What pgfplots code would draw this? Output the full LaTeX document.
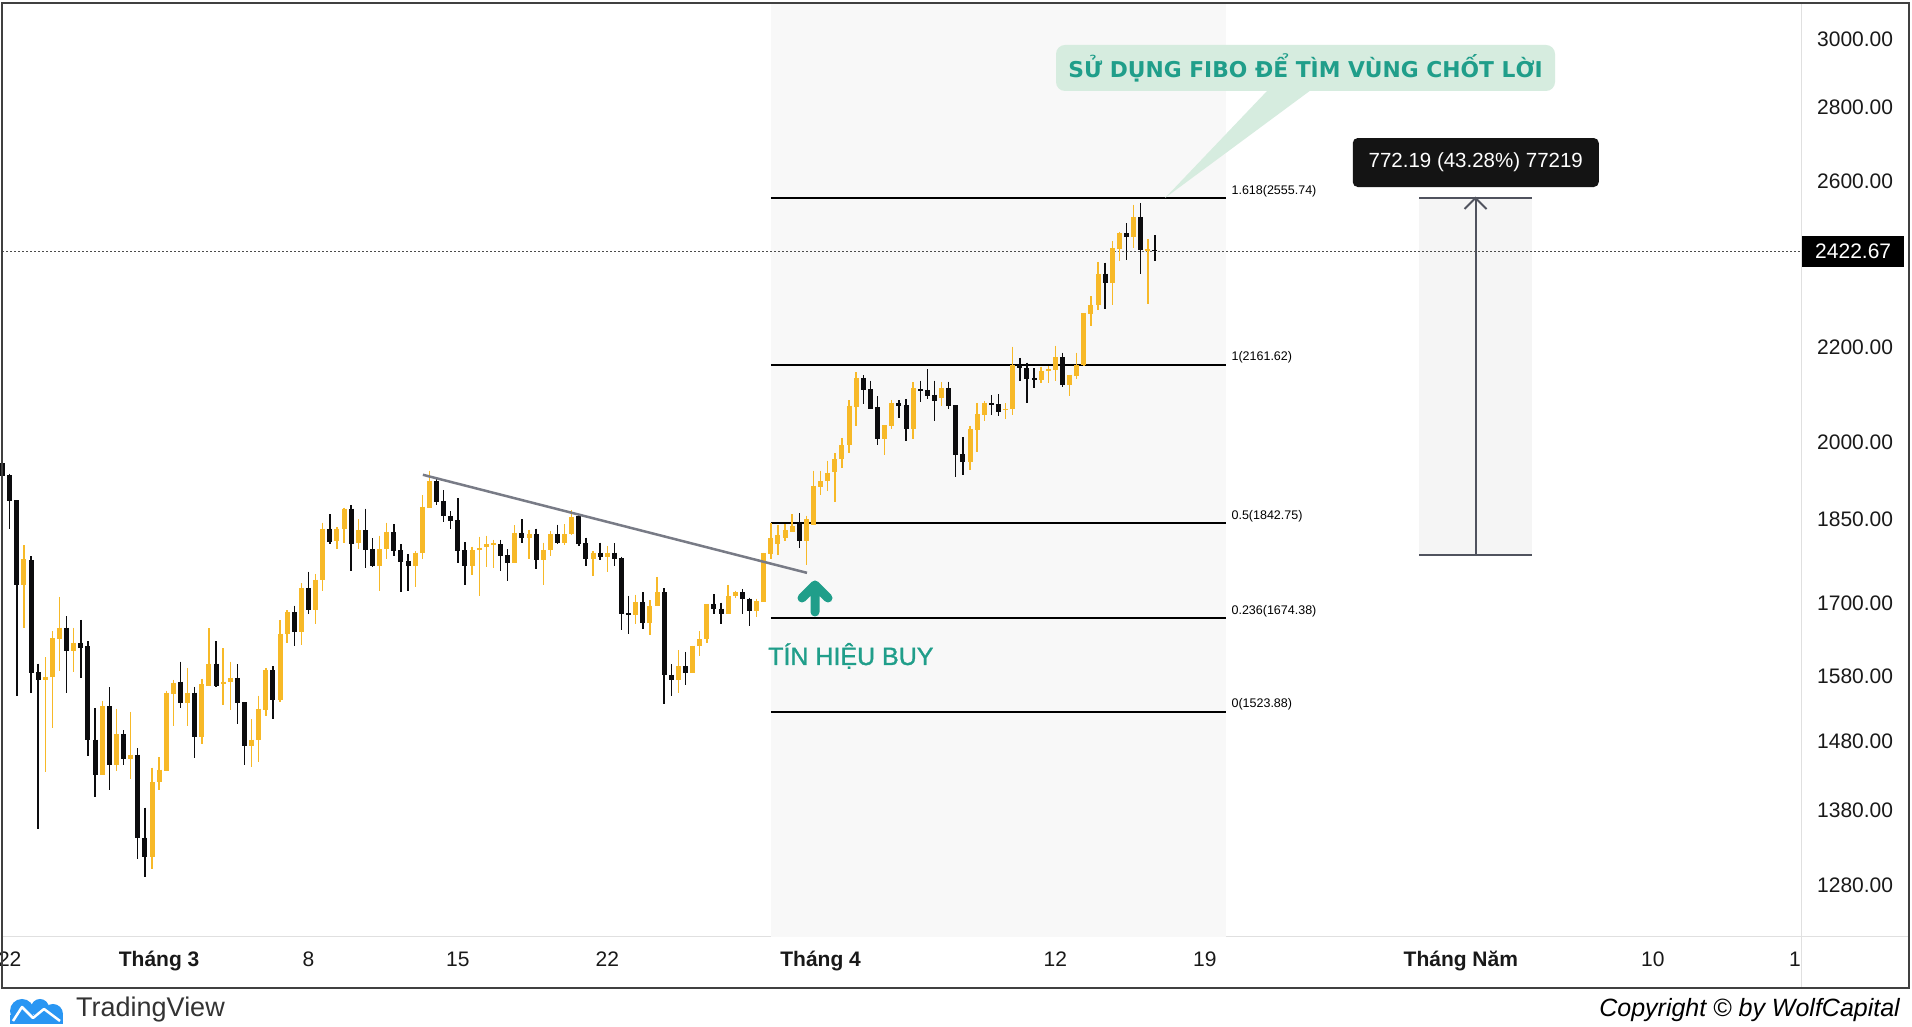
\documentclass[border=0pt]{standalone}
\usepackage{fontspec}
\setmainfont{Liberation Sans}
\newfontfamily\dejavu{DejaVu Sans}
\newfontfamily\semib[FakeBold=1.3]{Liberation Sans}
\usepackage{pgfplots}
\usepackage{pgfplotstable}
\pgfplotsset{compat=1.18}

\definecolor{upc}{RGB}{247,185,40}
\definecolor{dnc}{RGB}{12,12,14}
\definecolor{teal1}{RGB}{32,158,138}
\definecolor{bub}{RGB}{214,236,223}
\definecolor{shade}{RGB}{248,248,248}
\definecolor{tline}{RGB}{120,123,134}
\definecolor{mline}{RGB}{80,83,94}
\definecolor{tvblue}{RGB}{41,150,243}
\tikzset{fiblab/.style={anchor=base west, inner sep=0pt, xshift=5.5pt, yshift=4pt, font=\fontsize{12.5}{14}\selectfont}}

% 8h candles, k = candle index (x = k/3 days after 22 Feb)
\pgfplotstableread[row sep=\\]{
k o h l c\\
2 1731 1802 1658 1777\\ 5 1574 1610 1434 1579\\ 6 1578 1653 1499 1641\\
7 1640 1711 1588 1659\\ 9 1621 1659 1587 1634\\ 13 1430 1541 1430 1533\\
15 1444 1529 1436 1490\\ 17 1453 1524 1424 1460\\ 20 1317 1441 1301 1420\\
21 1420 1456 1409 1438\\ 22 1436 1557 1436 1554\\ 23 1551 1574 1502 1569\\
25 1538 1593 1502 1554\\ 27 1486 1576 1476 1567\\ 28 1564 1658 1564 1600\\
30 1567 1625 1534 1571\\ 31 1571 1603 1527 1577\\ 34 1472 1513 1442 1482\\
35 1481 1549 1449 1529\\ 36 1527 1593 1518 1590\\ 38 1543 1671 1539 1649\\
39 1649 1688 1634 1685\\ 41 1651 1735 1631 1726\\ 43 1688 1751 1665 1741\\
44 1740 1844 1722 1833\\ 46 1810 1835 1796 1833\\ 47 1832 1872 1806 1870\\
49 1806 1850 1795 1830\\ 52 1765 1820 1722 1795\\ 53 1795 1844 1777 1827\\
57 1765 1792 1728 1789\\ 58 1789 1896 1778 1874\\ 59 1872 1943 1872 1923\\
65 1765 1800 1750 1793\\ 66 1793 1818 1712 1798\\ 67 1800 1820 1764 1804\\
68 1803 1812 1762 1806\\ 71 1771 1839 1770 1825\\ 73 1816 1831 1778 1822\\
75 1775 1807 1731 1793\\ 76 1793 1828 1783 1822\\ 78 1807 1841 1802 1822\\
79 1822 1867 1821 1854\\ 82 1778 1792 1747 1789\\ 84 1782 1801 1754 1789\\
88 1680 1715 1665 1702\\ 90 1666 1705 1646 1696\\ 91 1695 1746 1695 1719\\
94 1574 1622 1554 1596\\ 96 1585 1629 1585 1629\\ 97 1628 1653 1613 1640\\
98 1640 1699 1634 1699\\ 101 1681 1732 1681 1712\\ 102 1712 1722 1709 1719\\
105 1687 1708 1677 1704\\ 106 1703 1789 1703 1788\\ 107 1786 1844 1777 1816\\
108 1805 1839 1784 1821\\ 109 1816 1841 1810 1830\\ 110 1827 1859 1827 1837\\
112 1810 1857 1767 1850\\ 113 1840 1943 1839 1914\\ 114 1912 1943 1896 1922\\
115 1922 1963 1903 1939\\ 116 1941 1978 1882 1966\\ 117 1965 2008 1948 1993\\
118 1993 2085 1978 2074\\ 119 2071 2145 2033 2133\\ 123 2005 2034 1973 2034\\
124 2032 2086 2026 2079\\ 127 2026 2123 2005 2111\\ 131 2090 2124 2074 2111\\
135 1960 2033 1944 2026\\ 136 2023 2080 1980 2056\\ 137 2054 2084 2043 2080\\
140 2064 2079 2047 2068\\ 141 2067 2201 2054 2161\\ 145 2128 2157 2121 2147\\
146 2147 2158 2121 2152\\ 147 2149 2203 2127 2178\\ 149 2118 2140 2094 2138\\
150 2136 2188 2130 2161\\ 151 2161 2276 2159 2276\\ 152 2274 2315 2247 2296\\
153 2294 2397 2283 2369\\ 155 2346 2447 2295 2431\\ 156 2429 2471 2398 2467\\
158 2457 2539 2431 2508\\ 160 2423 2452 2298 2428\\
}\upT

\pgfplotstableread[row sep=\\]{
k o h l c\\
-1 1958 1975 1900 1932\\ 0 1934 1937 1833 1884\\ 1 1886 1886 1549 1731\\
3 1776 1783 1554 1585\\ 4 1586 1600 1354 1574\\ 8 1659 1678 1554 1621\\
10 1634 1672 1577 1626\\ 11 1628 1636 1458 1481\\ 12 1482 1530 1399 1430\\
14 1533 1562 1409 1444\\ 16 1490 1496 1444 1453\\ 18 1460 1469 1314 1342\\
19 1343 1384 1291 1317\\ 24 1571 1603 1530 1538\\ 26 1554 1563 1455 1486\\
29 1600 1636 1563 1564\\ 32 1577 1599 1505 1538\\ 33 1539 1539 1444 1472\\
37 1589 1596 1513 1543\\ 40 1685 1696 1628 1651\\ 42 1726 1755 1681 1688\\
45 1833 1859 1804 1809\\ 48 1870 1876 1757 1804\\ 50 1830 1870 1762 1794\\
51 1795 1815 1763 1765\\ 54 1827 1841 1783 1792\\ 55 1793 1804 1719 1773\\
56 1774 1786 1722 1765\\ 60 1923 1929 1877 1883\\ 61 1885 1905 1845 1856\\
62 1856 1865 1833 1847\\ 63 1848 1890 1770 1792\\ 64 1793 1808 1731 1765\\
69 1804 1812 1757 1783\\ 70 1784 1795 1739 1771\\ 72 1825 1850 1806 1816\\
74 1822 1833 1759 1775\\ 77 1822 1840 1804 1807\\ 80 1856 1859 1801 1804\\
81 1806 1816 1765 1778\\ 83 1789 1807 1776 1782\\ 85 1789 1806 1765 1778\\
86 1779 1782 1655 1681\\ 87 1683 1713 1648 1680\\ 89 1702 1719 1656 1666\\
92 1719 1726 1536 1581\\ 93 1582 1599 1548 1574\\ 95 1596 1619 1566 1585\\
99 1699 1716 1681 1690\\ 100 1691 1701 1665 1681\\ 103 1719 1725 1681 1708\\
104 1708 1710 1661 1687\\ 111 1841 1861 1798 1810\\ 120 2133 2138 2077 2108\\
121 2109 2127 2067 2068\\ 122 2071 2094 1993 2005\\ 125 2079 2085 2049 2074\\
126 2075 2088 2002 2026\\ 128 2109 2127 2081 2105\\ 129 2106 2151 2088 2095\\
130 2097 2127 2043 2083\\ 132 2111 2125 2067 2074\\ 133 2075 2075 1930 1974\\
134 1975 2009 1934 1960\\ 138 2079 2096 2054 2075\\ 139 2077 2098 2052 2061\\
142 2161 2176 2127 2154\\ 143 2154 2166 2080 2130\\ 144 2133 2154 2112 2128\\
148 2178 2188 2113 2118\\ 154 2369 2395 2286 2346\\ 157 2467 2492 2402 2457\\
159 2508 2542 2368 2425\\ 161 2426 2462 2398 2422.67\\
}\dnT

\begin{document}
\begin{tikzpicture}[x=1pt,y=1pt]
\useasboundingbox (0,0) rectangle (1912,1027);
\fill[white] (0,0) rectangle (1912,1027);
\draw[black!12, line width=1pt] (2,90) -- (1909,90);
\draw[black!12, line width=1pt] (1801,39) -- (1801,1024);

\begin{axis}[
  at={(2pt,90pt)}, anchor=south west,
  scale only axis, width=1799pt, height=933pt,
  xmin=-0.363, xmax=83.94,
  ymode=log, ymin=1215.2, ymax=3107.6,
  clip=false,
  axis line style={draw=none},
  major tick length=0pt, xminorticks=false, yminorticks=false,
  xtick={0,7,14,21,28,38,49,56,68,77,83.66},
  xticklabels={22,\textbf{Tháng 3},8,15,22,\textbf{Tháng 4},12,19,\textbf{Tháng Năm},10,1},
  xticklabel style={anchor=base, yshift=-30pt, font=\fontsize{21}{25}\selectfont, text=black!90},
  ytick={1280,1380,1480,1580,1700,1850,2000,2200,2600,2800,3000},
  yticklabels={1280.00,1380.00,1480.00,1580.00,1700.00,1850.00,2000.00,2200.00,2600.00,2800.00,3000.00},
  ytick pos=right, yticklabel pos=right,
  yticklabel style={anchor=west, inner sep=0pt, xshift=16pt, font=\fontsize{21}{25}\selectfont, text=black!90},
]
% fibonacci background
\addplot[fill=shade, draw=none, forget plot] coordinates {(35.67,1215.2) (56.99,1215.2) (56.99,3107.6) (35.67,3107.6)} -- cycle;
% measure tool
\addplot[fill=black!4, draw=none, forget plot] coordinates {(66.04,1784) (71.33,1784) (71.33,2556) (66.04,2556)} -- cycle;
\addplot[mline, line width=2pt, forget plot] coordinates {(66.04,2556) (71.33,2556)};
\addplot[mline, line width=2pt, forget plot] coordinates {(66.04,1784) (71.33,1784)};
\addplot[mline, line width=2pt, forget plot] coordinates {(68.69,1784) (68.69,2556)};
\draw[mline, line width=2pt] ([xshift=-11pt,yshift=-11pt]axis cs:68.69,2556) -- (axis cs:68.69,2556) -- ([xshift=11pt,yshift=-11pt]axis cs:68.69,2556);
\node[fill=black!92, text=white, rounded corners=5pt, minimum width=246pt, minimum height=49pt, inner sep=0pt,
  font=\fontsize{20.5}{24}\selectfont] at (axis cs:68.7,2649) {772.19 (43.28\%) 77219};

% fibonacci levels
\addplot[black, line width=2pt, forget plot] coordinates {(35.67,2555.74) (56.99,2555.74)};
\addplot[black, line width=2pt, forget plot] coordinates {(35.67,2161.62) (56.99,2161.62)};
\addplot[black, line width=2pt, forget plot] coordinates {(35.67,1842.75) (56.99,1842.75)};
\addplot[black, line width=2pt, forget plot] coordinates {(35.67,1674.38) (56.99,1674.38)};
\addplot[black, line width=2pt, forget plot] coordinates {(35.67,1523.88) (56.99,1523.88)};
\node[fiblab] at (axis cs:56.99,2555.74) {1.618(2555.74)};
\node[fiblab] at (axis cs:56.99,2161.62) {1(2161.62)};
\node[fiblab] at (axis cs:56.99,1842.75) {0.5(1842.75)};
\node[fiblab] at (axis cs:56.99,1674.38) {0.236(1674.38)};
\node[fiblab] at (axis cs:56.99,1523.88) {0(1523.88)};

% last price line
\addplot[black!70, line width=1pt, dash pattern=on 1.5pt off 2.5pt, forget plot] coordinates {(-0.363,2422.67) (83.94,2422.67)};

% wicks
\addplot[draw=none, mark=none, forget plot, error bars/.cd, y dir=minus, y explicit, error mark=none,
  error bar style={line width=1.4pt, draw=upc}]
  table[x expr=\thisrow{k}/3, y=h, y error minus expr=\thisrow{h}-\thisrow{l}] {\upT};
\addplot[draw=none, mark=none, forget plot, error bars/.cd, y dir=minus, y explicit, error mark=none,
  error bar style={line width=1.4pt, draw=dnc}]
  table[x expr=\thisrow{k}/3, y=h, y error minus expr=\thisrow{h}-\thisrow{l}] {\dnT};
% bodies
\addplot[draw=none, mark=none, forget plot, error bars/.cd, y dir=minus, y explicit, error mark=none,
  error bar style={line width=5pt, draw=upc}]
  table[x expr=\thisrow{k}/3, y=c, y error minus expr=\thisrow{c}-\thisrow{o}] {\upT};
\addplot[draw=none, mark=none, forget plot, error bars/.cd, y dir=minus, y explicit, error mark=none,
  error bar style={line width=5pt, draw=dnc}]
  table[x expr=\thisrow{k}/3, y=o, y error minus expr=\thisrow{o}-\thisrow{c}] {\dnT};

% trend line
\addplot[tline, line width=2.5pt, forget plot] coordinates {(19.36,1935) (37.36,1753)};

% last price label
\node[anchor=west, fill=black, text=white, minimum width=102pt, minimum height=31pt, inner sep=0pt, xshift=1pt,
  font=\fontsize{21}{25}\selectfont] at (axis cs:83.94,2422.67) {2422.67};
\end{axis}

\draw[black!75, line width=1.5pt] (2,39) rectangle (1909,1024);

% callout
\fill[bub, rounded corners=9pt] (1056,936) rectangle (1555,982);
\fill[bub] (1268,937) -- (1165,829) -- (1311,937) -- cycle;
\node[text=teal1, font=\dejavu\bfseries\fontsize{21.8}{26}\selectfont] at (1305.5,959) {SỬ DỤNG FIBO ĐỂ TÌM VÙNG CHỐT LỜI};

% buy signal
\draw[teal1, line width=9pt, line cap=round, line join=round] (815,415) -- (815,442) (802,429) -- (815,442) -- (828,429);
\node[anchor=base west, inner sep=0pt, text=teal1, font=\semib\fontsize{25}{30}\selectfont] at (768,362) {TÍN HIỆU BUY};

% footer
\fill[tvblue] (10,3) rectangle (63,12);
\fill[tvblue] (22,16) circle (12);
\fill[tvblue] (40,19) circle (9);
\fill[tvblue] (53,13) circle (10);
\draw[white, line width=2.5pt, line join=round] (13,6) -- (22,20) -- (33,9) -- (44,18) -- (60,6);
\node[anchor=west, inner sep=0pt, text=black!80, font=\fontsize{27}{32}\selectfont] at (76,17) {TradingView};
\node[anchor=east, inner sep=0pt, font=\itshape\fontsize{25}{30}\selectfont] at (1900,17) {Copyright © by WolfCapital};
\end{tikzpicture}
\end{document}
